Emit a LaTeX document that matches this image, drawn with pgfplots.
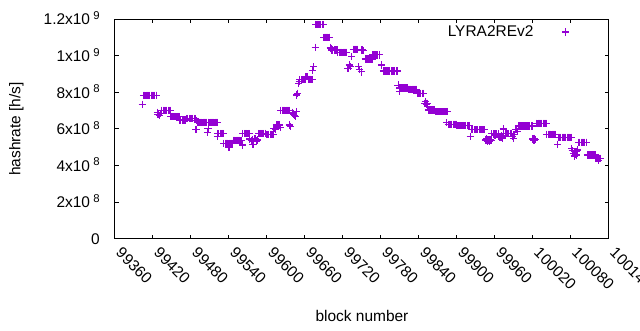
\documentclass[border=0pt]{standalone}
\usepackage{fontspec}
\setmainfont{Liberation Sans}
\usepackage{pgfplots}
\usepackage{pgfplotstable}
\pgfplotsset{compat=1.18}
\definecolor{gp}{RGB}{148,0,211}
\pgfplotsset{my legend img/.style={legend image code/.code={\path (0pt,0pt) (30pt,0pt); \draw[##1] plot coordinates {(24pt,0pt)};}}}
\newcommand{\sci}[2]{#1x10\kern2.5pt\raisebox{4pt}{\fontsize{8.5pt}{9pt}\selectfont #2}}
\pgfplotstableread[row sep=\\]{
x y\\
99403 7.35e8\\
99405 7.84e8\\ 99407 7.84e8\\ 99409 7.84e8\\ 99411 7.84e8\\ 99413 7.84e8\\ 99415 7.84e8\\
99417 7.84e8\\ 99419 7.84e8\\ 99421 7.84e8\\ 99423 7.84e8\\ 99425 7.84e8\\ 99426 7.84e8\\
99427 6.92e8\\ 99428 6.80e8\\ 99430 6.74e8\\ 99432 6.86e8\\
99434 7.02e8\\ 99436 7.02e8\\ 99438 7.02e8\\ 99440 7.02e8\\ 99442 7.02e8\\ 99444 7.02e8\\ 99446 7.02e8\\ 99447 7.02e8\\
99448 6.69e8\\ 99450 6.69e8\\ 99452 6.69e8\\ 99454 6.69e8\\ 99456 6.69e8\\ 99458 6.69e8\\ 99460 6.69e8\\ 99461 6.69e8\\
99462 6.49e8\\ 99464 6.49e8\\ 99466 6.49e8\\ 99468 6.49e8\\ 99470 6.49e8\\ 99472 6.49e8\\
99473 6.58e8\\ 99475 6.58e8\\ 99477 6.58e8\\ 99479 6.58e8\\ 99481 6.58e8\\ 99483 6.58e8\\ 99485 6.58e8\\ 99487 6.58e8\\
99488 5.98e8\\ 99489 6.47e8\\ 99490 6.42e8\\
99491 6.37e8\\ 99493 6.37e8\\ 99495 6.37e8\\ 99497 6.37e8\\ 99499 6.37e8\\ 99501 6.37e8\\ 99503 6.37e8\\ 99505 6.37e8\\
99506 5.82e8\\ 99507 6.02e8\\
99508 6.37e8\\ 99510 6.37e8\\ 99512 6.37e8\\ 99514 6.37e8\\ 99516 6.37e8\\ 99518 6.37e8\\ 99520 6.37e8\\ 99521 6.37e8\\
99522 5.58e8\\
99522 5.76e8\\ 99524 5.76e8\\ 99526 5.76e8\\ 99528 5.76e8\\ 99530 5.76e8\\ 99531 5.76e8\\
99532 5.22e8\\ 99534 5.22e8\\ 99536 5.22e8\\ 99538 5.22e8\\ 99540 5.22e8\\ 99542 5.22e8\\ 99544 5.22e8\\ 99546 5.22e8\\
99540 4.98e8\\
99547 5.38e8\\ 99549 5.38e8\\ 99551 5.38e8\\ 99553 5.38e8\\ 99555 5.38e8\\ 99557 5.38e8\\ 99559 5.38e8\\ 99560 5.38e8\\
99561 5.12e8\\
99562 5.76e8\\ 99564 5.76e8\\ 99566 5.76e8\\ 99568 5.76e8\\ 99570 5.76e8\\ 99572 5.76e8\\
99573 5.45e8\\ 99575 5.36e8\\ 99577 5.42e8\\ 99578 5.15e8\\ 99579 5.30e8\\ 99581 5.46e8\\ 99583 5.34e8\\ 99585 5.40e8\\
99587 5.76e8\\ 99589 5.76e8\\ 99591 5.76e8\\ 99593 5.76e8\\ 99595 5.76e8\\ 99597 5.76e8\\ 99598 5.76e8\\
99599 5.70e8\\ 99601 5.70e8\\ 99603 5.70e8\\ 99605 5.70e8\\ 99607 5.70e8\\ 99609 5.70e8\\ 99610 5.70e8\\
99611 6.04e8\\ 99613 6.00e8\\ 99615 6.22e8\\ 99616 6.22e8\\ 99617 6.22e8\\ 99618 6.22e8\\ 99619 6.22e8\\ 99620 6.22e8\\ 99621 6.08e8\\
99622 7.02e8\\ 99624 7.02e8\\ 99626 7.02e8\\ 99628 7.02e8\\ 99630 7.02e8\\ 99632 7.02e8\\ 99634 7.02e8\\ 99636 7.02e8\\
99635 6.22e8\\ 99637 6.12e8\\
99640 6.92e8\\ 99642 6.82e8\\ 99644 6.75e8\\ 99645 6.67e8\\ 99646 6.95e8\\
99647 7.86e8\\ 99648 7.95e8\\
99650 8.50e8\\ 99651 8.62e8\\
99652 8.70e8\\ 99654 8.70e8\\ 99656 8.70e8\\ 99658 8.70e8\\ 99660 8.70e8\\
99661 8.85e8\\ 99663 8.85e8\\ 99664 8.85e8\\
99665 8.72e8\\ 99667 8.72e8\\ 99669 8.72e8\\ 99671 8.72e8\\
99672 9.18e8\\ 99674 9.41e8\\
99676 1.047e9\\
99677 1.173e9\\ 99679 1.173e9\\ 99681 1.173e9\\ 99683 1.173e9\\ 99685 1.173e9\\ 99687 1.173e9\\ 99689 1.173e9\\
99690 1.102e9\\ 99692 1.102e9\\ 99694 1.102e9\\ 99696 1.102e9\\ 99698 1.102e9\\ 99699 1.102e9\\
99700 1.047e9\\ 99701 1.040e9\\
99702 1.032e9\\ 99704 1.032e9\\ 99706 1.032e9\\ 99708 1.032e9\\ 99710 1.032e9\\ 99711 1.032e9\\
99712 1.020e9\\ 99714 1.020e9\\ 99716 1.020e9\\ 99718 1.020e9\\ 99720 1.020e9\\ 99722 1.020e9\\ 99724 1.020e9\\ 99726 1.020e9\\
99728 9.32e8\\ 99730 9.50e8\\ 99732 9.40e8\\ 99734 9.95e8\\
99736 1.036e9\\ 99738 1.036e9\\ 99740 1.036e9\\ 99742 1.036e9\\ 99743 1.036e9\\
99744 9.40e8\\ 99746 9.25e8\\ 99749 9.12e8\\
99750 1.032e9\\ 99751 1.032e9\\ 99752 1.030e9\\
99755 9.83e8\\ 99757 9.83e8\\ 99759 9.83e8\\ 99761 9.83e8\\ 99763 9.83e8\\ 99765 9.83e8\\ 99766 9.83e8\\
99767 1.005e9\\ 99769 1.005e9\\ 99771 1.005e9\\ 99773 1.005e9\\ 99775 1.005e9\\ 99777 1.005e9\\ 99778 1.005e9\\
99781 9.50e8\\
99784 9.17e8\\ 99786 9.17e8\\ 99788 9.17e8\\ 99790 9.17e8\\ 99792 9.17e8\\ 99794 9.17e8\\
99796 9.17e8\\ 99798 9.17e8\\ 99800 9.17e8\\ 99802 9.17e8\\ 99804 9.17e8\\ 99806 9.17e8\\
99807 8.40e8\\ 99809 8.04e8\\
99810 8.24e8\\ 99812 8.24e8\\ 99814 8.24e8\\ 99816 8.24e8\\ 99818 8.24e8\\ 99820 8.24e8\\ 99822 8.24e8\\
99823 8.17e8\\ 99825 8.17e8\\ 99827 8.17e8\\ 99829 8.17e8\\ 99831 8.17e8\\ 99833 8.17e8\\ 99835 8.17e8\\ 99836 8.17e8\\
99837 7.95e8\\ 99839 7.95e8\\ 99841 7.95e8\\ 99843 7.95e8\\ 99845 7.95e8\\ 99847 7.95e8\\
99849 7.41e8\\ 99850 7.50e8\\ 99851 7.41e8\\ 99852 7.36e8\\ 99853 7.41e8\\
99854 7.22e8\\
99855 7.04e8\\ 99857 7.04e8\\ 99859 7.04e8\\ 99861 7.04e8\\ 99863 7.04e8\\ 99865 7.04e8\\
99866 6.95e8\\ 99868 6.95e8\\ 99870 6.95e8\\ 99872 6.95e8\\ 99874 6.95e8\\ 99876 6.95e8\\
99878 6.95e8\\ 99880 6.95e8\\ 99882 6.95e8\\ 99884 6.95e8\\ 99885 6.95e8\\
99884 6.34e8\\
99886 6.26e8\\ 99888 6.26e8\\ 99890 6.26e8\\ 99892 6.26e8\\ 99894 6.26e8\\ 99896 6.26e8\\ 99898 6.26e8\\ 99899 6.26e8\\
99900 6.18e8\\ 99902 6.18e8\\ 99904 6.18e8\\ 99906 6.18e8\\ 99908 6.18e8\\ 99910 6.18e8\\
99912 6.18e8\\ 99914 6.18e8\\ 99916 6.18e8\\ 99918 6.18e8\\ 99920 6.18e8\\
99921 5.58e8\\
99923 5.95e8\\ 99925 5.95e8\\ 99927 5.95e8\\ 99929 5.95e8\\ 99931 5.95e8\\ 99933 5.95e8\\
99935 5.95e8\\ 99937 5.95e8\\ 99939 5.95e8\\ 99941 5.95e8\\ 99943 5.95e8\\ 99944 5.95e8\\
99945 5.40e8\\ 99946 5.36e8\\ 99947 5.45e8\\ 99948 5.31e8\\ 99949 5.42e8\\
99950 5.38e8\\ 99951 5.34e8\\ 99952 5.44e8\\ 99953 5.40e8\\ 99954 5.36e8\\
99955 5.73e8\\ 99957 5.73e8\\ 99959 5.73e8\\ 99961 5.73e8\\ 99963 5.73e8\\ 99965 5.73e8\\
99960 5.67e8\\
99966 5.58e8\\ 99968 5.52e8\\ 99970 5.62e8\\ 99971 5.56e8\\ 99972 5.50e8\\
99973 6.00e8\\
99974 5.76e8\\ 99976 5.76e8\\ 99978 5.76e8\\ 99980 5.76e8\\ 99982 5.76e8\\ 99984 5.76e8\\ 99986 5.76e8\\
99987 5.58e8\\ 99989 5.49e8\\
99990 5.70e8\\ 99992 5.95e8\\ 99994 5.95e8\\ 99995 5.88e8\\
99997 6.16e8\\ 99999 6.16e8\\ 100001 6.16e8\\ 100003 6.16e8\\ 100005 6.16e8\\ 100007 6.16e8\\
100009 6.16e8\\ 100011 6.16e8\\ 100013 6.16e8\\ 100015 6.16e8\\ 100017 6.16e8\\ 100019 6.16e8\\
100020 5.45e8\\ 100021 5.40e8\\ 100022 5.35e8\\ 100023 5.50e8\\ 100024 5.42e8\\
100026 6.31e8\\ 100028 6.31e8\\ 100030 6.31e8\\ 100032 6.31e8\\ 100034 6.31e8\\
100036 6.31e8\\ 100038 6.31e8\\ 100040 6.31e8\\ 100041 6.31e8\\
100042 5.71e8\\ 100044 5.71e8\\ 100046 5.71e8\\ 100048 5.71e8\\ 100050 5.71e8\\
100052 5.71e8\\ 100054 5.71e8\\ 100056 5.71e8\\
100059 5.16e8\\
100060 5.55e8\\ 100062 5.55e8\\ 100064 5.55e8\\ 100066 5.55e8\\ 100068 5.55e8\\ 100070 5.55e8\\
100072 5.55e8\\ 100074 5.55e8\\ 100076 5.55e8\\ 100078 5.55e8\\ 100080 5.55e8\\
100081 4.94e8\\ 100082 4.80e8\\ 100084 4.67e8\\ 100085 4.55e8\\ 100086 4.49e8\\
100087 4.62e8\\ 100088 4.75e8\\ 100089 4.58e8\\ 100090 4.85e8\\
100092 5.27e8\\ 100094 5.27e8\\ 100096 5.27e8\\ 100098 5.27e8\\ 100100 5.27e8\\
100102 5.27e8\\ 100104 5.27e8\\ 100105 5.27e8\\
100106 4.58e8\\ 100108 4.58e8\\ 100110 4.58e8\\ 100112 4.58e8\\ 100114 4.58e8\\ 100116 4.58e8\\ 100118 4.58e8\\
100119 4.40e8\\ 100121 4.40e8\\ 100123 4.40e8\\ 100125 4.40e8\\ 100126 4.40e8\\
100124 4.28e8\\
}\hashdata
\begin{document}
\begin{tikzpicture}[font=\fontsize{11.6pt}{14pt}\selectfont]
\useasboundingbox (0,0) rectangle (480pt,247.5pt);
\begin{axis}[
  at={(86.25pt,68.5pt)}, anchor=south west,
  scale only axis, width=370.5pt, height=164.55pt,
  xmin=99360, xmax=100140, ymin=0, ymax=1.2e9,
  scaled ticks=false,
  axis line style={line width=0.75pt},
  every tick/.style={black, line width=0.75pt},
  tick align=inside, tick pos=both,
  major tick length=3pt,
  xtick={99360,99420,99480,99540,99600,99660,99720,99780,99840,99900,99960,100020,100080,100140},
  xticklabels={99360,99420,99480,99540,99600,99660,99720,99780,99840,99900,99960,100020,100080,100140},
  xticklabel style={yshift=-11.3pt, rotate=-45, anchor=base west, inner sep=0pt},
  ytick={0,2e8,4e8,6e8,8e8,1e9,1.2e9},
  yticklabels={0,\sci{2}{8},\sci{4}{8},\sci{6}{8},\sci{8}{8},\sci{1}{9},\sci{1.2}{9}},
  yticklabel style={xshift=-11.25pt, yshift=-4.2pt, anchor=base east, inner sep=0pt},
  xlabel={block number},
  xlabel style={at={([yshift=-58pt]rel axis cs:0.5,0)}, anchor=center},
  ylabel={hashrate [h/s]},
  ylabel style={at={([xshift=-74pt]rel axis cs:0,0.5)}, anchor=center},
  legend plot pos=right,
  legend style={at={(rel axis cs:0.9291,0.942)}, anchor=east, draw=none, fill=none,
    inner sep=0pt, outer sep=0pt, column sep=0pt, nodes={inner sep=0pt}},
]
\addplot[only marks, mark=+, color=gp, mark size=2.7pt, mark options={line width=0.85pt}, my legend img]
  table[x=x, y=y] {\hashdata};
\addlegendentry{LYRA2REv2}
\end{axis}
\end{tikzpicture}
\end{document}
